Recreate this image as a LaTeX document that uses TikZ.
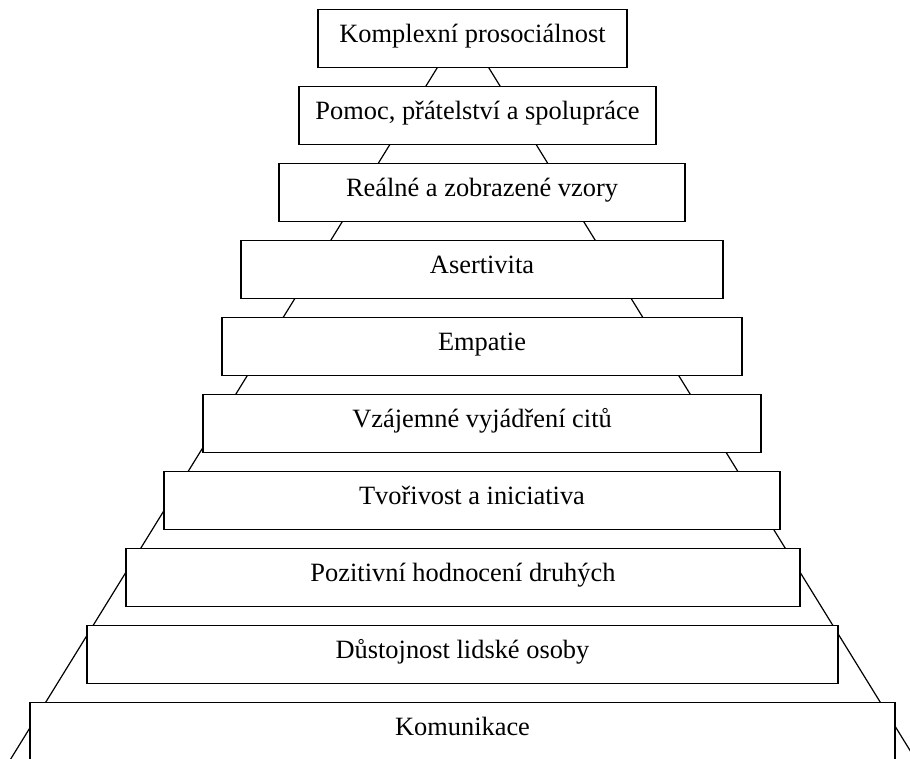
\documentclass[tikz,border=0pt]{standalone}
\usepackage{fontspec}
\setmainfont{Liberation Serif}
\begin{document}
\begin{tikzpicture}[x=1pt,y=-1pt,
  every node/.style={font=\fontsize{26.4}{30}\selectfont},
  stepbox/.style={draw, line width=1.2pt, fill=white, inner sep=0pt,
    text height=33pt, text depth=24.5pt, anchor=north},
  side/.style={line width=1.2pt}]
\useasboundingbox (0,0) rectangle (910,758);
\clip (0,0) rectangle (910,758);
\coordinate (apex) at (463,26);
\coordinate (bl) at (-14.6,800);
\coordinate (br) at (940.6,800);
\draw[side] (bl) -- (apex) -- (br);
\node[stepbox, minimum width=309pt] (b1) at (472.5,9) {Komplexní prosociálnost};
\node[stepbox, minimum width=357pt] (b2) at (477.5,86) {Pomoc, přátelství a spolupráce};
\node[stepbox, minimum width=406pt] (b3) at (482,163) {Reálné a zobrazené vzory};
\node[stepbox, minimum width=482pt] (b4) at (482,240) {Asertivita};
\node[stepbox, minimum width=520pt] (b5) at (482,317) {Empatie};
\node[stepbox, minimum width=558pt] (b6) at (482,394) {Vzájemné vyjádření citů};
\node[stepbox, minimum width=616pt] (b7) at (472,471) {Tvořivost a iniciativa};
\node[stepbox, minimum width=674pt] (b8) at (463,548) {Pozitivní hodnocení druhých};
\node[stepbox, minimum width=751pt] (b9) at (462.5,625) {Důstojnost lidské osoby};
\node[stepbox, minimum width=865pt] (b10) at (462.5,702) {Komunikace};
\end{tikzpicture}
\end{document}
